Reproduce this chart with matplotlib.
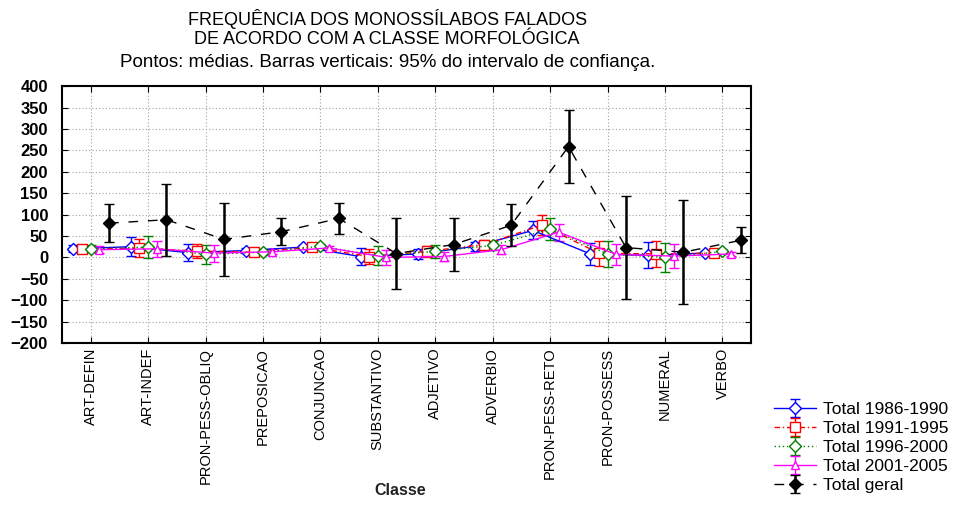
import numpy as np
import matplotlib
matplotlib.use('Agg')
import matplotlib.pyplot as plt

plt.rcParams['font.family'] = ['Liberation Sans', 'DejaVu Sans']

# categorias (classe morfológica)
classes = ['ART-DEFIN', 'ART-INDEF', 'PRON-PESS-OBLIQ', 'PREPOSICAO', 'CONJUNCAO',
           'SUBSTANTIVO', 'ADJETIVO', 'ADVERBIO', 'PRON-PESS-RETO', 'PRON-POSSESS',
           'NUMERAL', 'VERBO']

# médias e meia-largura do IC 95% por período
mean_1986 = [20, 25, 11, 16, 24, 2, 8, 26, 63, 8, 5, 10]
ci_1986 = [8, 22, 20, 6, 5, 20, 12, 10, 21, 26, 30, 5]
mean_1991 = [20, 21, 15, 12, 24, 2, 14, 30, 75, 10, 8, 10]
ci_1991 = [9, 21, 17, 6, 5, 17, 12, 10, 23, 29, 30, 5]
mean_1996 = [20, 24, 7, 12, 26, 4, 14, 28, 66, 8, 0, 14]
ci_1996 = [8, 25, 22, 6, 5, 22, 15, 10, 25, 30, 33, 5]
mean_2001 = [18, 20, 10, 13, 22, 0, 2, 18, 59, 7, 3, 8]
ci_2001 = [8, 18, 20, 6, 5, 18, 10, 10, 20, 24, 28, 5]
mean_geral = [80, 88, 42, 60, 91, 9, 30, 75, 259, 23, 12, 40]
ci_geral = [44, 84, 85, 31, 36, 84, 62, 49, 85, 120, 121, 30]

series = [
    ('Total 1986-1990', mean_1986, ci_1986, '#0000ff', '-', 'D', 'white', -0.30, 1.0),
    ('Total 1991-1995', mean_1991, ci_1991, '#ff0000', (0, (4, 2, 1, 2)), 's', 'white', -0.15, 1.0),
    ('Total 1996-2000', mean_1996, ci_1996, '#008000', (0, (1, 2)), 'D', 'white', 0.0, 1.0),
    ('Total 2001-2005', mean_2001, ci_2001, '#ff00ff', '-', '^', 'white', 0.15, 1.0),
    ('Total geral', mean_geral, ci_geral, '#000000', (0, (7, 7)), 'D', '#000000', 0.32, 1.8),
]

fig = plt.figure(figsize=(9.68, 5.07), dpi=100)
ax = fig.add_axes([0.064, 0.3235, 0.712, 0.5065])

x = np.arange(len(classes))
handles = []
for label, m, ci, col, ls, mk, fc, off, elw in series:
    h = ax.errorbar(x + off, m, yerr=ci, color=col, ecolor=col, linestyle=ls,
                    linewidth=1.0, marker=mk, markersize=6 if mk != 's' else 6.5,
                    markerfacecolor=fc, markeredgecolor=col, markeredgewidth=1.0,
                    elinewidth=elw, capsize=3.5, capthick=1.0, label=label,
                    zorder=3 if col != '#000000' else 4)
    handles.append(h)

ax.set_xlim(-0.5, 11.5)
ax.set_ylim(-200, 400)
ax.set_yticks(np.arange(-200, 401, 50))
ax.set_xticks(x)
ax.set_xticklabels(classes, rotation=90, fontsize=10.5)
for t in ax.get_yticklabels():
    t.set_fontweight('bold')
    t.set_fontsize(12)
ax.tick_params(direction='in', top=True, right=True, length=4)
ax.tick_params(axis='y', pad=10)
ax.grid(True, linestyle=(0, (1, 2)), color='#a0a0a0', linewidth=0.8)
for s in ax.spines.values():
    s.set_linewidth(1.5)

fig.text(0.413, 0.018, 'Classe', ha='center', va='bottom', fontsize=11.5, fontweight='bold',
         color='#222222')

fig.text(0.40, 0.963, 'FREQUÊNCIA DOS MONOSSÍLABOS FALADOS', ha='center', va='center', fontsize=13)
fig.text(0.40, 0.922, 'DE ACORDO COM A CLASSE MORFOLÓGICA', ha='center', va='center', fontsize=13)
fig.text(0.40, 0.876, 'Pontos: médias. Barras verticais: 95% do intervalo de confiança.',
         ha='center', va='center', fontsize=13.5)

fig.legend(handles=handles, loc='upper left', bbox_to_anchor=(0.800, 0.207),
           frameon=False, fontsize=12.5, handlelength=2.4, handletextpad=0.4,
           labelspacing=0.22, borderaxespad=0, borderpad=0)

fig.savefig('out.png', dpi=100, facecolor='white')
